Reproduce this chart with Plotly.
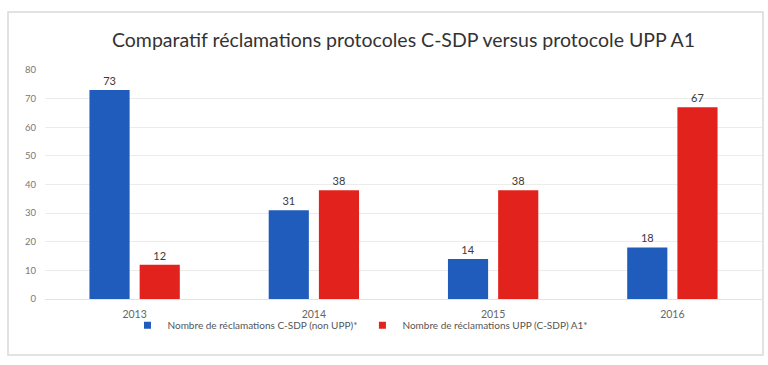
import plotly.graph_objects as go

years = ["2013", "2014", "2015", "2016"]
csdp_values = [73, 31, 14, 18]
upp_values = [12, 38, 38, 67]
series_names = ["Nombre de réclamations C-SDP (non UPP)*", "Nombre de réclamations UPP (C-SDP) A1*"]
y_ticks = [0, 10, 20, 30, 40, 50, 60, 70, 80]
title_text = "Comparatif réclamations protocoles C-SDP versus protocole UPP A1"

blue = "#1f5cbc"
red = "#e2231d"

fig = go.Figure()
for vals, color in ((csdp_values, blue), (upp_values, red)):
    fig.add_trace(go.Bar(
        x=years, y=vals, showlegend=False,
        marker=dict(color=color, line=dict(width=0)),
        text=vals, textposition="outside", cliponaxis=False,
        textfont=dict(family="Lato", size=11, color="#3a3a3a"),
    ))

# legend-only entries with small square swatches
for name, color in zip(series_names, (blue, red)):
    fig.add_trace(go.Scatter(
        x=[None], y=[None], mode="markers", name=name,
        marker=dict(symbol="square", size=7, color=color),
    ))

fig.update_layout(
    width=768, height=365,
    margin=dict(l=45, r=6, t=70, b=66),
    paper_bgcolor="white", plot_bgcolor="white",
    barmode="group", bargap=0.44, bargroupgap=0.2,
    title=dict(text=title_text, x=0.5, xref="paper", xanchor="center", y=1 - 40 / 365, yanchor="middle",
               font=dict(family="Lato", size=19.5, color="#333333")),
    font=dict(family="Lato", color="#666666"),
    showlegend=True,
    legend=dict(orientation="h", x=0.44, xanchor="center", y=-0.115, yanchor="middle",
                bgcolor="rgba(0,0,0,0)",
                font=dict(family="Lato", size=10, color="#555555"),
                itemwidth=30, tracegroupgap=0),
    xaxis=dict(showgrid=False, showline=True, linecolor="#e3e3e3", linewidth=1,
               ticks="", ticklabelstandoff=5, tickfont=dict(family="Lato", size=10.5, color="#666666")),
    yaxis=dict(range=[0, 80], tickvals=y_ticks, showgrid=True, gridcolor="#ececec", gridwidth=1,
               zeroline=False, showline=False, ticks="", ticklabelstandoff=8,
               tickfont=dict(family="Lato", size=9.5, color="#777777")),
)

fig.add_shape(type="rect", xref="paper", yref="paper",
              x0=(8 - 45) / 717, x1=(763 - 45) / 717,
              y0=(299 - 355) / 229, y1=(299 - 12) / 229,
              line=dict(color="#d9d9d9", width=1.5), fillcolor="rgba(0,0,0,0)", layer="below")

fig.write_html("out.html")
